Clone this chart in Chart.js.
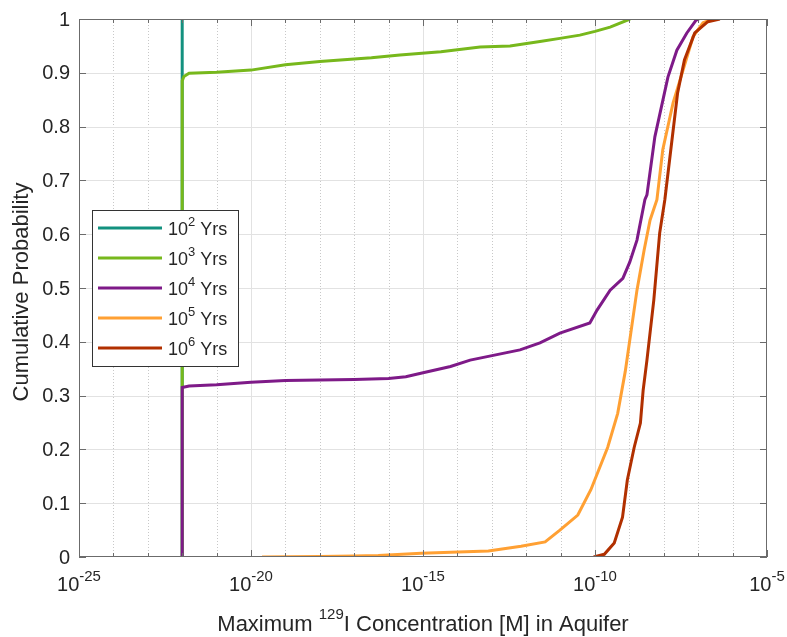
<!DOCTYPE html>
<html lang="en">
<head>
<meta charset="UTF-8">
<title>Maximum 129I Concentration</title>
<script src="https://cdn.jsdelivr.net/npm/chart.js"></script>
<style>
  html, body { margin: 0; padding: 0; background: #fff; }
  #wrap { width: 787px; height: 637px; position: relative; }
</style>
</head>
<body>
<div id="wrap"><canvas id="cdfChart"></canvas></div>
<script>
// x = log10 of max concentration [M], y = cumulative probability
const legendExps = ['2', '3', '4', '5', '6'];
const lineColors = ['#13917f', '#77b81c', '#7e1a88', '#ffa033', '#b13000'];

const exp1e2 = [-22, -22];
const prob1e2 = [0, 1];

const exp1e3 = [-22, -22, -21.95, -21.8, -21, -20, -19, -18, -17.4, -16.5, -15.67, -14.48, -13.34, -12.47, -11.6, -11.02, -10.44, -10.0, -9.56, -8.98];
const prob1e3 = [0, 0.885, 0.893, 0.899, 0.901, 0.905, 0.915, 0.921, 0.924, 0.928, 0.933, 0.939, 0.948, 0.95, 0.958, 0.964, 0.97, 0.977, 0.985, 1.0];

const exp1e4 = [-22, -22, -21.8, -21, -20, -19, -17, -16, -15.5, -15.03, -14.2, -13.63, -12.18, -11.6, -11.02, -10.15, -9.94, -9.56, -9.19, -8.99, -8.78, -8.55, -8.49, -8.26, -7.88, -7.62, -7.33, -7.06, -6.98];
const prob1e4 = [0, 0.315, 0.318, 0.32, 0.325, 0.328, 0.33, 0.332, 0.335, 0.342, 0.354, 0.366, 0.385, 0.398, 0.416, 0.435, 0.459, 0.496, 0.518, 0.548, 0.589, 0.664, 0.673, 0.781, 0.892, 0.942, 0.974, 0.998, 1.0];

const exp1e5 = [-19.68, -18, -17, -16.3, -15.05, -13.1, -12.15, -11.45, -11.02, -10.5, -10.12, -9.63, -9.34, -9.12, -8.78, -8.57, -8.4, -8.2, -8.03, -7.73, -7.44, -7.15, -6.86, -6.57];
const prob1e5 = [0, 0.001, 0.002, 0.003, 0.007, 0.011, 0.02, 0.028, 0.05, 0.078, 0.125, 0.204, 0.267, 0.345, 0.496, 0.571, 0.626, 0.664, 0.757, 0.844, 0.905, 0.967, 0.993, 1.0];

const exp1e6 = [-10.04, -9.73, -9.44, -9.2, -9.06, -8.86, -8.68, -8.6, -8.49, -8.29, -8.12, -7.97, -7.6, -7.4, -7.1, -6.72, -6.37];
const prob1e6 = [0, 0.005, 0.026, 0.074, 0.143, 0.204, 0.249, 0.31, 0.366, 0.478, 0.602, 0.664, 0.862, 0.924, 0.974, 0.995, 1.0];

const xTickExps = [-25, -20, -15, -10, -5];
const yTicks = [0, 0.1, 0.2, 0.3, 0.4, 0.5, 0.6, 0.7, 0.8, 0.9, 1];

const allExps = [exp1e2, exp1e3, exp1e4, exp1e5, exp1e6];
const allProbs = [prob1e2, prob1e3, prob1e4, prob1e5, prob1e6];

const FONT = '"Liberation Sans", Arial, sans-serif';
const TEXT = '#262626';

function toPoints(exps, probs) {
  return exps.map((e, i) => ({ x: Math.pow(10, e), y: probs[i] }));
}

// base with a raised exponent
function powWidth(ctx, base, sup, size, supSize) {
  ctx.font = size + 'px ' + FONT;
  const w1 = ctx.measureText(base).width;
  ctx.font = supSize + 'px ' + FONT;
  return w1 + ctx.measureText(sup).width;
}
function drawPow(ctx, base, sup, left, baseline, size, supSize) {
  ctx.textAlign = 'left';
  ctx.textBaseline = 'alphabetic';
  ctx.font = size + 'px ' + FONT;
  ctx.fillText(base, left, baseline);
  const w1 = ctx.measureText(base).width;
  ctx.font = supSize + 'px ' + FONT;
  ctx.fillText(sup, left + w1, baseline - size * 0.5);
  return w1 + ctx.measureText(sup).width;
}

const framePlugin = {
  id: 'frame',
  beforeDatasetsDraw(chart) {
    const { ctx, chartArea: a, scales: { x, y } } = chart;
    ctx.save();
    ctx.lineWidth = 1;
    for (let e = -24; e <= -6; e++) {
      const px = Math.round(x.getPixelForValue(Math.pow(10, e))) + 0.5;
      if (e % 5 === 0) { ctx.setLineDash([]); ctx.strokeStyle = '#e2e2e2'; }
      else { ctx.setLineDash([1, 2]); ctx.strokeStyle = '#c8c8c8'; }
      ctx.beginPath(); ctx.moveTo(px, a.top); ctx.lineTo(px, a.bottom); ctx.stroke();
    }
    ctx.setLineDash([]);
    ctx.strokeStyle = '#e2e2e2';
    yTicks.slice(1, -1).forEach(v => {
      const py = Math.round(y.getPixelForValue(v)) + 0.5;
      ctx.beginPath(); ctx.moveTo(a.left, py); ctx.lineTo(a.right, py); ctx.stroke();
    });
    ctx.restore();
  },
  afterDatasetsDraw(chart) {
    const { ctx, chartArea: a, scales: { x, y } } = chart;
    ctx.save();
    // axes box and ticks
    ctx.strokeStyle = '#6b6b6b';
    ctx.lineWidth = 1;
    ctx.strokeRect(a.left + 0.5, a.top + 0.5, a.right - a.left - 1, a.bottom - a.top - 1);
    ctx.beginPath();
    for (let e = -25; e <= -5; e++) {
      const px = Math.round(x.getPixelForValue(Math.pow(10, e))) + 0.5;
      const len = e % 5 === 0 ? 7 : 4;
      ctx.moveTo(px, a.bottom); ctx.lineTo(px, a.bottom - len);
      ctx.moveTo(px, a.top); ctx.lineTo(px, a.top + len);
    }
    yTicks.forEach(v => {
      const py = Math.round(y.getPixelForValue(v)) + 0.5;
      ctx.moveTo(a.left, py); ctx.lineTo(a.left + 7, py);
      ctx.moveTo(a.right, py); ctx.lineTo(a.right - 7, py);
    });
    ctx.stroke();

    ctx.fillStyle = TEXT;
    // y tick labels
    ctx.font = '20px ' + FONT;
    ctx.textAlign = 'right';
    ctx.textBaseline = 'middle';
    yTicks.forEach(v => {
      ctx.fillText(String(Math.round(v * 10) / 10), a.left - 9, y.getPixelForValue(v) + 1);
    });
    // x tick labels
    xTickExps.forEach(e => {
      const px = x.getPixelForValue(Math.pow(10, e));
      const sup = String(e);
      const w = powWidth(ctx, '10', sup, 20, 15);
      drawPow(ctx, '10', sup, px - w / 2, 591, 20, 15);
    });
    // x title
    const pre = 'Maximum ';
    const post = 'I Concentration [M] in Aquifer';
    ctx.font = '22px ' + FONT;
    const wPre = ctx.measureText(pre).width;
    const wPost = ctx.measureText(post).width;
    ctx.font = '15px ' + FONT;
    const wSup = ctx.measureText('129').width;
    let left = (a.left + a.right) / 2 - (wPre + wSup + wPost) / 2;
    ctx.textAlign = 'left';
    ctx.textBaseline = 'alphabetic';
    ctx.font = '22px ' + FONT;
    ctx.fillText(pre, left, 631);
    ctx.font = '15px ' + FONT;
    ctx.fillText('129', left + wPre, 619);
    ctx.font = '22px ' + FONT;
    ctx.fillText(post, left + wPre + wSup, 631);
    // y title
    ctx.save();
    ctx.translate(22, (a.top + a.bottom) / 2 + 4);
    ctx.rotate(-Math.PI / 2);
    ctx.textAlign = 'center';
    ctx.textBaseline = 'middle';
    ctx.font = '22px ' + FONT;
    ctx.fillText('Cumulative Probability', 0, 0);
    ctx.restore();

    // legend
    const bx = 92.5, by = 210.5, bw = 146, bh = 156;
    ctx.fillStyle = '#fff';
    ctx.fillRect(bx, by, bw, bh);
    ctx.strokeStyle = '#333';
    ctx.lineWidth = 1;
    ctx.strokeRect(bx, by, bw, bh);
    legendExps.forEach((s, i) => {
      const ly = 228 + i * 30;
      ctx.strokeStyle = lineColors[i];
      ctx.lineWidth = 3;
      ctx.beginPath(); ctx.moveTo(98, ly); ctx.lineTo(162, ly); ctx.stroke();
      ctx.fillStyle = TEXT;
      const w = drawPow(ctx, '10', s, 168, ly + 7, 18, 13);
      ctx.font = '18px ' + FONT;
      ctx.fillText(' Yrs', 168 + w, ly + 7);
    });
    ctx.restore();
  }
};

const datasets = allExps.map((exps, i) => ({
  label: '10^' + legendExps[i] + ' Yrs',
  data: toPoints(exps, allProbs[i]),
  borderColor: lineColors[i],
  borderWidth: 3,
  pointRadius: 0,
  tension: 0,
  fill: false,
  order: 5 - i
}));

new Chart(document.getElementById('cdfChart').getContext('2d'), {
  type: 'line',
  data: { datasets: datasets },
  options: {
    responsive: true,
    maintainAspectRatio: false,
    animation: false,
    layout: { padding: { left: 79, right: 20, top: 19, bottom: 80 } },
    scales: {
      x: { type: 'logarithmic', min: 1e-25, max: 1e-5, display: false },
      y: { type: 'linear', min: 0, max: 1, display: false }
    },
    plugins: {
      legend: { display: false },
      tooltip: { enabled: false }
    }
  },
  plugins: [framePlugin]
});
</script>
</body>
</html>
